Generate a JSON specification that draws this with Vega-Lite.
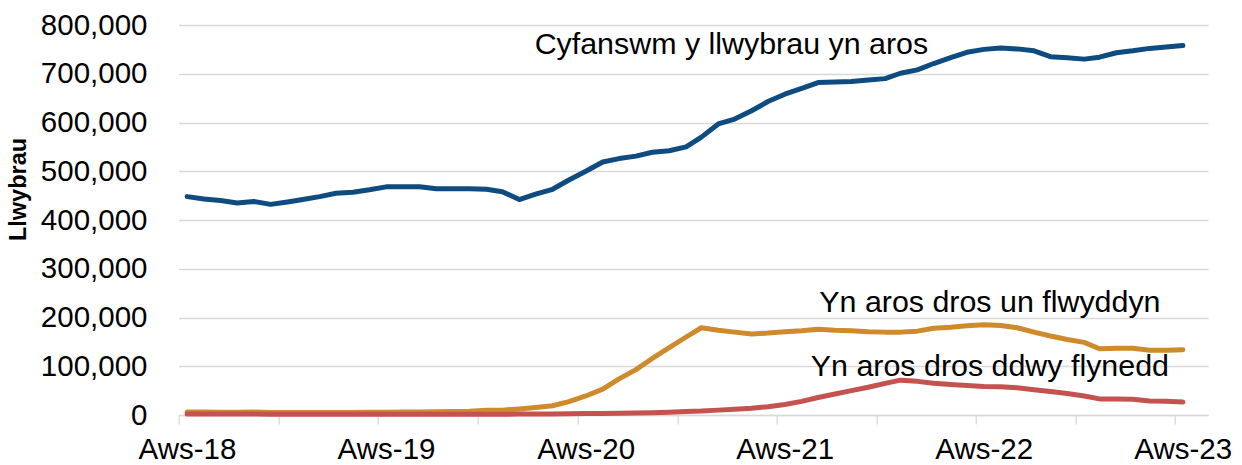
{
  "$schema": "https://vega.github.io/schema/vega-lite/v6.json",
  "width": 1029.3,
  "height": 390,
  "autosize": {"type": "none"},
  "padding": {"left": 178.7, "top": 25, "right": 34, "bottom": 50},
  "background": "white",
  "config": {"view": {"stroke": null}, "font": "Liberation Sans"},
  "datasets": {
    "series": [
      {"month": "2018-08-01", "total": 448000, "over1": 6000, "over2": 2000},
      {"month": "2018-09-01", "total": 443000, "over1": 6000, "over2": 2000},
      {"month": "2018-10-01", "total": 440000, "over1": 5500, "over2": 2000},
      {"month": "2018-11-01", "total": 435000, "over1": 5500, "over2": 2000},
      {"month": "2018-12-01", "total": 438000, "over1": 6000, "over2": 2000},
      {"month": "2019-01-01", "total": 432000, "over1": 5000, "over2": 1500},
      {"month": "2019-02-01", "total": 437000, "over1": 5000, "over2": 1500},
      {"month": "2019-03-01", "total": 442000, "over1": 5000, "over2": 1500},
      {"month": "2019-04-01", "total": 448000, "over1": 5000, "over2": 1500},
      {"month": "2019-05-01", "total": 455000, "over1": 5000, "over2": 1500},
      {"month": "2019-06-01", "total": 457000, "over1": 5000, "over2": 1500},
      {"month": "2019-07-01", "total": 462000, "over1": 5500, "over2": 1500},
      {"month": "2019-08-01", "total": 468000, "over1": 5500, "over2": 1500},
      {"month": "2019-09-01", "total": 468000, "over1": 6000, "over2": 1500},
      {"month": "2019-10-01", "total": 468000, "over1": 6000, "over2": 1500},
      {"month": "2019-11-01", "total": 464000, "over1": 6500, "over2": 1500},
      {"month": "2019-12-01", "total": 464000, "over1": 7000, "over2": 1500},
      {"month": "2020-01-01", "total": 464000, "over1": 7500, "over2": 1500},
      {"month": "2020-02-01", "total": 463000, "over1": 9500, "over2": 1500},
      {"month": "2020-03-01", "total": 458000, "over1": 10000, "over2": 1500},
      {"month": "2020-04-01", "total": 442000, "over1": 12500, "over2": 2000},
      {"month": "2020-05-01", "total": 453000, "over1": 15500, "over2": 2000},
      {"month": "2020-06-01", "total": 463000, "over1": 19000, "over2": 2000},
      {"month": "2020-07-01", "total": 482000, "over1": 27500, "over2": 2500},
      {"month": "2020-08-01", "total": 500000, "over1": 39000, "over2": 3000},
      {"month": "2020-09-01", "total": 519000, "over1": 53000, "over2": 3000},
      {"month": "2020-10-01", "total": 526000, "over1": 74000, "over2": 3500},
      {"month": "2020-11-01", "total": 531000, "over1": 93000, "over2": 4000},
      {"month": "2020-12-01", "total": 539000, "over1": 116000, "over2": 4500},
      {"month": "2021-01-01", "total": 542000, "over1": 138000, "over2": 5500},
      {"month": "2021-02-01", "total": 550000, "over1": 160000, "over2": 7000},
      {"month": "2021-03-01", "total": 570000, "over1": 179000, "over2": 8000},
      {"month": "2021-04-01", "total": 597000, "over1": 174000, "over2": 10000},
      {"month": "2021-05-01", "total": 607000, "over1": 170000, "over2": 12000},
      {"month": "2021-06-01", "total": 624000, "over1": 166000, "over2": 14000},
      {"month": "2021-07-01", "total": 643000, "over1": 168000, "over2": 17000},
      {"month": "2021-08-01", "total": 658000, "over1": 171000, "over2": 21500},
      {"month": "2021-09-01", "total": 670000, "over1": 173000, "over2": 28000},
      {"month": "2021-10-01", "total": 682000, "over1": 176000, "over2": 36000},
      {"month": "2021-11-01", "total": 683000, "over1": 174000, "over2": 43000},
      {"month": "2021-12-01", "total": 684000, "over1": 173000, "over2": 50000},
      {"month": "2022-01-01", "total": 687000, "over1": 171000, "over2": 57000},
      {"month": "2022-02-01", "total": 690000, "over1": 170000, "over2": 65000},
      {"month": "2022-03-01", "total": 701000, "over1": 170000, "over2": 71500},
      {"month": "2022-04-01", "total": 708000, "over1": 172000, "over2": 69000},
      {"month": "2022-05-01", "total": 721000, "over1": 178000, "over2": 65000},
      {"month": "2022-06-01", "total": 733000, "over1": 180000, "over2": 62500},
      {"month": "2022-07-01", "total": 744000, "over1": 183000, "over2": 60500},
      {"month": "2022-08-01", "total": 750000, "over1": 185000, "over2": 58500},
      {"month": "2022-09-01", "total": 753000, "over1": 183500, "over2": 58000},
      {"month": "2022-10-01", "total": 751000, "over1": 179000, "over2": 56000},
      {"month": "2022-11-01", "total": 747000, "over1": 170000, "over2": 52000},
      {"month": "2022-12-01", "total": 735000, "over1": 162000, "over2": 48000},
      {"month": "2023-01-01", "total": 733000, "over1": 155000, "over2": 44000},
      {"month": "2023-02-01", "total": 730000, "over1": 149000, "over2": 39000},
      {"month": "2023-03-01", "total": 734000, "over1": 136000, "over2": 33000},
      {"month": "2023-04-01", "total": 743000, "over1": 137000, "over2": 33000},
      {"month": "2023-05-01", "total": 747000, "over1": 137000, "over2": 32500},
      {"month": "2023-06-01", "total": 752000, "over1": 133000, "over2": 28500},
      {"month": "2023-07-01", "total": 755000, "over1": 133000, "over2": 28000},
      {"month": "2023-08-01", "total": 758000, "over1": 134000, "over2": 26500}
    ],
    "labels": [
      {"month": "2021-04-25", "value": 740500, "label": "Cyfanswm y llwybrau yn aros"},
      {"month": "2022-08-12", "value": 210700, "label": "Yn aros dros un flwyddyn"},
      {"month": "2022-08-12", "value": 80600, "label": "Yn aros dros ddwy flynedd"}
    ]
  },
  "encoding": {
    "x": {
      "field": "month",
      "type": "temporal",
      "scale": {
        "type": "utc",
        "domain": [
          {"year": 2018, "month": 7, "date": 16, "hours": 12, "utc": true},
          {"year": 2023, "month": 9, "date": 16, "utc": true}
        ]
      },
      "axis": {
        "values": [
          {"year": 2018, "month": 7, "date": 16, "hours": 12, "utc": true},
          {"year": 2019, "month": 1, "date": 16, "hours": 12, "utc": true},
          {"year": 2019, "month": 7, "date": 16, "hours": 12, "utc": true},
          {"year": 2020, "month": 1, "date": 16, "hours": 12, "utc": true},
          {"year": 2020, "month": 7, "date": 16, "hours": 12, "utc": true},
          {"year": 2021, "month": 1, "date": 16, "hours": 12, "utc": true},
          {"year": 2021, "month": 7, "date": 16, "hours": 12, "utc": true},
          {"year": 2022, "month": 1, "date": 16, "hours": 12, "utc": true},
          {"year": 2022, "month": 7, "date": 16, "hours": 12, "utc": true},
          {"year": 2023, "month": 1, "date": 16, "hours": 12, "utc": true},
          {"year": 2023, "month": 7, "date": 16, "hours": 12, "utc": true}
        ],
        "labelExpr": "utcmonth(datum.value) == 6 ? 'Aws-' + utcFormat(datum.value, '%y') : ''",
        "labelOffset": 8.3,
        "labelAngle": 0,
        "labelOverlap": false,
        "labelFlush": false,
        "labelBound": false,
        "grid": false,
        "domainColor": "#d9d9d9",
        "domainWidth": 1.3,
        "tickColor": "#d9d9d9",
        "tickWidth": 1.3,
        "tickSize": 9,
        "labelPadding": 11,
        "labelFont": "Liberation Sans",
        "labelFontSize": 29.5,
        "labelColor": "#000000",
        "title": null
      }
    },
    "y": {
      "field": "value",
      "type": "quantitative",
      "scale": {"domain": [0, 800000]},
      "axis": {
        "values": [0, 100000, 200000, 300000, 400000, 500000, 600000, 700000, 800000],
        "format": ",.0f",
        "grid": true,
        "gridColor": "#d9d9d9",
        "gridWidth": 1.3,
        "domain": false,
        "ticks": false,
        "tickSize": 0,
        "labelPadding": 31.7,
        "labelFont": "Liberation Sans",
        "labelFontSize": 29.5,
        "labelColor": "#000000",
        "title": "Llwybrau",
        "titleFont": "Liberation Sans",
        "titleFontSize": 23.5,
        "titleFontWeight": "bold",
        "titleColor": "#000000",
        "titleX": -160.2,
        "titleY": 164,
        "titleAngle": 270,
        "titleAlign": "center",
        "titleBaseline": "middle"
      }
    }
  },
  "layer": [
    {
      "data": {"name": "series"},
      "transform": [{"fold": ["total", "over1", "over2"], "as": ["series", "value"]}],
      "mark": {"type": "line", "strokeWidth": 5, "strokeCap": "round", "strokeJoin": "round"},
      "encoding": {
        "color": {
          "field": "series",
          "type": "nominal",
          "scale": {"domain": ["total", "over1", "over2"], "range": ["#0d4b81", "#cf8a2c", "#c4534f"]},
          "legend": null
        }
      }
    },
    {
      "data": {"name": "labels"},
      "mark": {"type": "text", "align": "center", "baseline": "alphabetic", "font": "Liberation Sans", "fontSize": 30.4, "color": "#000000"},
      "encoding": {
        "text": {"field": "label", "type": "nominal"}
      }
    }
  ]
}
